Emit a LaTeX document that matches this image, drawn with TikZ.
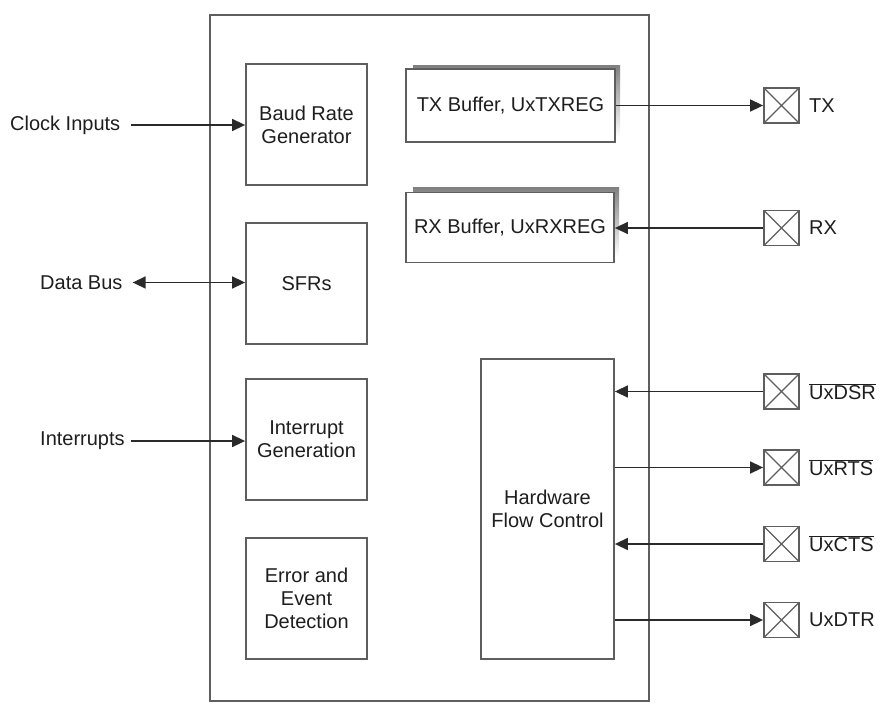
\documentclass[tikz,border=0pt]{standalone}
\usepackage{fontspec}
\setmainfont{Liberation Sans}
\usetikzlibrary{arrows.meta,calc}
\definecolor{edge}{HTML}{5E5E5E}
\definecolor{wire}{HTML}{2A2A2A}
\definecolor{shade}{HTML}{777777}
\definecolor{ink}{HTML}{1E1E1E}
\begin{document}
\begin{tikzpicture}[x=1pt,y=-1pt,
  every node/.style={font=\fontsize{20}{23}\selectfont, text=ink},
  blockbox/.style={draw=edge, line width=1.8pt, fill=white, inner sep=0pt, align=center},
  pinbox/.style={draw=edge, line width=1.8pt, fill=white, inner sep=0pt,
    minimum width=35pt, minimum height=35pt,
    path picture={\draw[edge, line width=1.2pt] (path picture bounding box.north west) -- (path picture bounding box.south east)
      (path picture bounding box.north east) -- (path picture bounding box.south west);}},
  sig/.style={inner sep=0pt, anchor=west},
  wirestyle/.style={draw=wire, line width=1.5pt},
  arr/.style={wirestyle, -{Triangle[length=13pt,width=12pt]}},
  darr/.style={wirestyle, {Triangle[length=13pt,width=12pt]}-{Triangle[length=13pt,width=12pt]}}
]
\useasboundingbox (0,0) rectangle (887,704);

% outer box
\node[blockbox, minimum width=439pt, minimum height=686pt] (outer) at (429.5,358) {};

% left blocks
\node[blockbox, minimum width=121pt, minimum height=121pt] (baud) at (306.5,124.5) {Baud Rate\\Generator};
\node[blockbox, minimum width=121pt, minimum height=121pt] (sfr) at (306.5,283.5) {SFRs};
\node[blockbox, minimum width=121pt, minimum height=121pt] (intg) at (306.5,439.5) {Interrupt\\Generation};
\node[blockbox, minimum width=121pt, minimum height=121pt] (err) at (306.5,598.5) {Error and\\Event\\Detection};

% buffers with shadows
\fill[shade] (413,65) rectangle (620,137);
\node[blockbox, minimum width=209pt, minimum height=73pt] (txb) at (510.5,105.5) {TX Buffer, UxTXREG};
\fill[shade] (413,187) rectangle (619,257);
\node[blockbox, minimum width=208pt, minimum height=70pt] (rxb) at (510,227.5) {RX Buffer, UxRXREG};

% hardware flow control
\node[blockbox, minimum width=133pt, minimum height=300pt] (hfc) at (547.5,509) {Hardware\\Flow Control};

% pins
\node[pinbox] (ptx) at (781.5,105.5) {};
\node[pinbox] (prx) at (781.5,228) {};
\node[pinbox] (pdsr) at (781.5,391.5) {};
\node[pinbox] (prts) at (781.5,467.5) {};
\node[pinbox] (pcts) at (781.5,544) {};
\node[pinbox] (pdtr) at (781.5,620) {};

\node[sig] (ltx) at (809,105.5) {TX};
\node[sig] (lrx) at (809,228) {RX};
\node[sig] (ldsr) at (809,391.5) {$\overline{\hbox{UxDSR}}$};
\node[sig] (lrts) at (809,467.5) {$\overline{\hbox{UxRTS}}$};
\node[sig] (lcts) at (809,544) {$\overline{\hbox{UxCTS}}$};
\node[sig] (ldtr) at (809,620) {UxDTR};

% left signals
\node[sig] (lclk) at (10,125) {Clock Inputs};
\node[sig] (ldb) at (40,282.5) {Data Bus};
\node[sig] (lint) at (40,441) {Interrupts};

\draw[arr] ([xshift=11pt]lclk.east) -- (baud.west |- lclk.east);
\draw[darr] ([xshift=10pt]ldb.east) -- (sfr.west |- ldb.east);
\draw[arr] ([xshift=6pt]lint.east) -- (intg.west |- lint.east);

% right connectors
\draw[arr] (txb.east |- ptx.west) -- (ptx.west);
\draw[arr] (prx.west) -- (rxb.east |- prx.west);
\draw[arr] (pdsr.west) -- (hfc.east |- pdsr.west);
\draw[arr] (hfc.east |- prts.west) -- (prts.west);
\draw[arr] (pcts.west) -- (hfc.east |- pcts.west);
\draw[arr] (hfc.east |- pdtr.west) -- (pdtr.west);
\end{tikzpicture}
\end{document}
